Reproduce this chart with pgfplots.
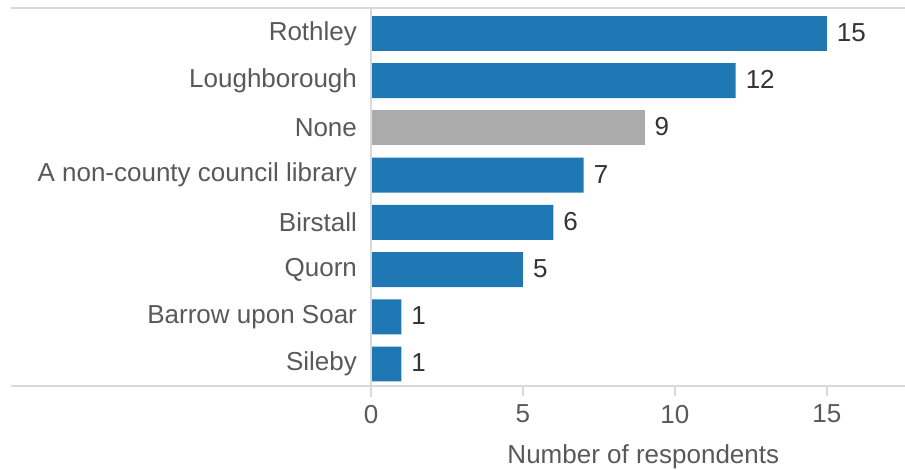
\documentclass[border=0pt]{standalone}
\usepackage{pgfplots}
\pgfplotsset{compat=1.18}
\usepackage{fontspec}
\setmainfont{Liberation Sans}
\definecolor{barblue}{HTML}{1F77B4}
\definecolor{bargray}{HTML}{ABABAB}
\definecolor{labgray}{HTML}{595959}
\definecolor{valtext}{HTML}{333333}
\definecolor{linegray}{HTML}{D9D9D9}
\begin{document}
\fontsize{13}{15}\selectfont
\begin{tikzpicture}
\useasboundingbox (-185.5pt,-42pt) rectangle (267pt,193pt);
\begin{axis}[
 scale only axis,width=267pt,height=189pt,
 xbar,bar width=0.74,bar shift=0pt,
 xmin=0,xmax=17.57,ymin=-0.466,ymax=7.54,
 clip=false,
 axis line style={draw=none},
 /pgf/number format/assume math mode=true,
 xtick={0,5,10,15},xtick pos=bottom,
 tick align=outside,major tick length=5pt,
 xtick style={linegray,line width=1pt},
 ytick={0,...,7},ytick style={draw=none},
 yticklabels={Sileby,Barrow upon Soar,Quorn,Birstall,A non-county council library,None,Loughborough,Rothley},
 yticklabel style={text=labgray,anchor=east,xshift=2.5pt},
 xticklabel style={text=labgray},
 xlabel={Number of respondents},
 xlabel style={text=labgray,at={(axis description cs:0.51,0)},anchor=center,yshift=-35.5pt},
 nodes near coords,
 every node near coord/.append style={text=valtext,anchor=west,xshift=0.5pt,yshift=0.5pt},
]
\addplot[draw=none,fill=barblue] coordinates {
 (15,7) (12,6) (7,4) (6,3) (5,2) (1,1) (1,0)
};
\addplot[draw=none,fill=bargray] coordinates {
 (9,5)
};
\draw[linegray,line width=1pt] ([xshift=-180pt]rel axis cs:0,1) -- (rel axis cs:1,1);
\draw[linegray,line width=1pt] ([xshift=-180pt]rel axis cs:0,0) -- (rel axis cs:1,0);
\draw[linegray,line width=1pt] (rel axis cs:0,1) -- ([yshift=-5.5pt]rel axis cs:0,0);
\end{axis}
\end{tikzpicture}
\end{document}
